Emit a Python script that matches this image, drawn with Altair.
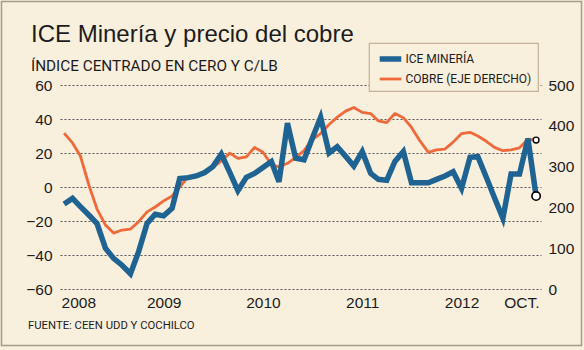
import altair as alt
import pandas as pd

# ---------------- data ----------------
meses = pd.date_range("2008-01-01", "2012-10-01", freq="MS").strftime("%Y-%m-%d").tolist()

ice_mineria = [
    -10, -6.7, -11.5, -16.5, -21.5, -36, -42, -46, -51, -38,
    -21.4, -16, -17, -12.5, 5, 5.5, 6.5, 8.5, 12, 19.4,
    8.6, -2.2, 5.7, 8, 11.5, 15, 3, 37.5, 17, 16,
    28.5, 41, 20, 23.7, 18, 12.4, 20.8, 8, 4.5, 4,
    15, 20.8, 2.5, 2.5, 2.5, 4.5, 6.5, 9, -0.8, 17.5,
    17.8, 5.7, -6.3, -18.4, 7.6, 7.6, 28.5, -5.3,
]

cobre = [
    382, 358, 326, 255, 196, 157, 137, 144.5, 147, 165,
    189, 201, 216, 228, 250, 275, 278, 284.5, 298, 314,
    333, 320, 324, 347, 335, 305, 299, 308, 322, 339,
    366, 381, 403, 421, 436, 445, 433, 430, 412, 408,
    430, 420, 396, 363, 335, 341, 343, 360, 381, 384,
    375, 362, 347, 339, 341, 346, 367, 365,
]

series = ["ICE MINERÍA", "COBRE (EJE DERECHO)"]
left_ticks = [-60, -40, -20, 0, 20, 40, 60]
right_ticks = [0, 100, 200, 300, 400, 500]
x_tick_years = [2008, 2009, 2010, 2011, 2012]
x_tick_labels = ["2008", "2009", "2010", "2011", "2012", "OCT."]

titulo = "ICE Minería y precio del cobre"
subtitulo = "ÍNDICE CENTRADO EN CERO Y C/LB"
fuente = "FUENTE: CEEN UDD Y COCHILCO"

df = pd.DataFrame({"fecha": meses, "ice": ice_mineria, "cobre": cobre})
last = df.tail(1)

# ---------------- style ----------------
CREAM = "#f9efdd"
BLUE = "#1f6392"
ORANGE = "#f0693a"
TXT = "#1c1c1c"
FONT = "Liberation Sans"
NARROW = "Roboto"

W, H = 481, 204

label_expr = "utcmonth(datum.value) == 9 ? '%s' : utcFormat(datum.value, '%%Y')" % x_tick_labels[-1]

x_enc = alt.X(
    "fecha:T",
    scale=alt.Scale(
        type="utc",
        domain=[alt.DateTime(year=2007, month=12, date=17, utc=True),
                alt.DateTime(year=2012, month=10, date=19, utc=True)],
    ),
    axis=alt.Axis(
        values=[alt.DateTime(year=y, month=1, date=1, utc=True) for y in x_tick_years]
        + [alt.DateTime(year=2012, month=10, date=1, utc=True)],
        labelExpr=label_expr,
        title=None, grid=False, ticks=False, tickSize=0, domain=False,
        labelFont=FONT, labelFontSize=15.5, labelColor=TXT,
        labelPadding=6, labelFlush=10, labelFlushOffset=3, labelOverlap=False,
    ),
)

legend = alt.Legend(
    orient="none", legendX=309, legendY=-42, title=None,
    direction="vertical",
    fillColor=CREAM, strokeColor="#c2b19b",
    padding=6,
    symbolType="M-1.5,0H1.5", symbolSize=207, symbolOffset=5.5,
    labelFont=NARROW, labelFontSize=12, labelColor=TXT,
    labelOffset=5, rowPadding=0, labelLimit=300,
)
color_enc = alt.Color(
    "serie:N", scale=alt.Scale(domain=series, range=[BLUE, ORANGE]), legend=legend
)
width_enc = alt.StrokeWidth(
    "serie:N", scale=alt.Scale(type="ordinal", domain=series, range=[5.5, 2.8]), legend=legend
)

y_right = alt.Y(
    "cobre:Q",
    scale=alt.Scale(domain=[0, 500]),
    axis=alt.Axis(
        orient="right", values=right_ticks, title=None, grid=False,
        ticks=False, tickSize=0, domain=False, labelOverlap=False,
        labelFont=FONT, labelFontSize=15.5, labelColor=TXT, labelPadding=7,
    ),
)
y_left = alt.Y(
    "ice:Q",
    scale=alt.Scale(domain=[-60, 60]),
    axis=alt.Axis(
        orient="left", values=left_ticks, title=None, grid=True,
        gridColor="#555555", gridDash=[2, 2], gridWidth=1,
        ticks=False, tickSize=0, domain=False, labelOverlap=False,
        labelFont=FONT, labelFontSize=15.5, labelColor=TXT, labelPadding=8,
    ),
)

orange_line = (
    alt.Chart(df)
    .transform_calculate(serie="'%s'" % series[1])
    .mark_line(strokeJoin="round")
    .encode(x=x_enc, y=y_right, color=color_enc, strokeWidth=width_enc)
)
orange_pt = alt.Chart(last).mark_point(
    filled=True, fill="white", stroke="black", strokeWidth=1.4, size=34, opacity=1
).encode(x=x_enc, y=y_right)

blue_line = (
    alt.Chart(df)
    .transform_calculate(serie="'%s'" % series[0])
    .mark_line(strokeJoin="miter")
    .encode(x=x_enc, y=y_left, color=color_enc, strokeWidth=width_enc)
)
blue_pt = alt.Chart(last).mark_point(
    filled=True, fill="white", stroke="black", strokeWidth=1.6, size=70, opacity=1
).encode(x=x_enc, y=y_left)

one = alt.Data(values=[{"k": 0}])
border = alt.Chart(one).mark_rect(fillOpacity=0, stroke="#a89a8a", strokeWidth=1.5).encode(
    x=alt.value(-58.5), x2=alt.value(521.5), y=alt.value(-83.5), y2=alt.value(260.5)
)
t_title = alt.Chart(one).mark_text(
    text=titulo, font=FONT, fontSize=24, color=TXT, align="left", baseline="alphabetic"
).encode(x=alt.value(-29), y=alt.value(-43))
t_sub = alt.Chart(one).mark_text(
    text=subtitulo, font=NARROW, fontSize=15.3, color=TXT, align="left", baseline="alphabetic"
).encode(x=alt.value(-29), y=alt.value(-14))
t_foot = alt.Chart(one).mark_text(
    text=fuente, font=NARROW, fontSize=11.3, color=TXT, align="left", baseline="alphabetic"
).encode(x=alt.value(-32), y=alt.value(244))

chart = (
    alt.layer(
        border, t_title, t_sub, t_foot,
        alt.layer(orange_line, orange_pt),
        alt.layer(blue_line, blue_pt),
    )
    .resolve_scale(y="independent")
    .properties(
        width=W, height=H, background=CREAM,
        autosize=alt.AutoSizeParams(type="none"),
        padding={"left": 60, "top": 85, "right": 43, "bottom": 61},
    )
    .configure_view(stroke=None)
    .configure_legend(strokeWidth=1.2, cornerRadius=0)
)

chart.save("out.html", embed_options={"renderer": "svg", "actions": False})
